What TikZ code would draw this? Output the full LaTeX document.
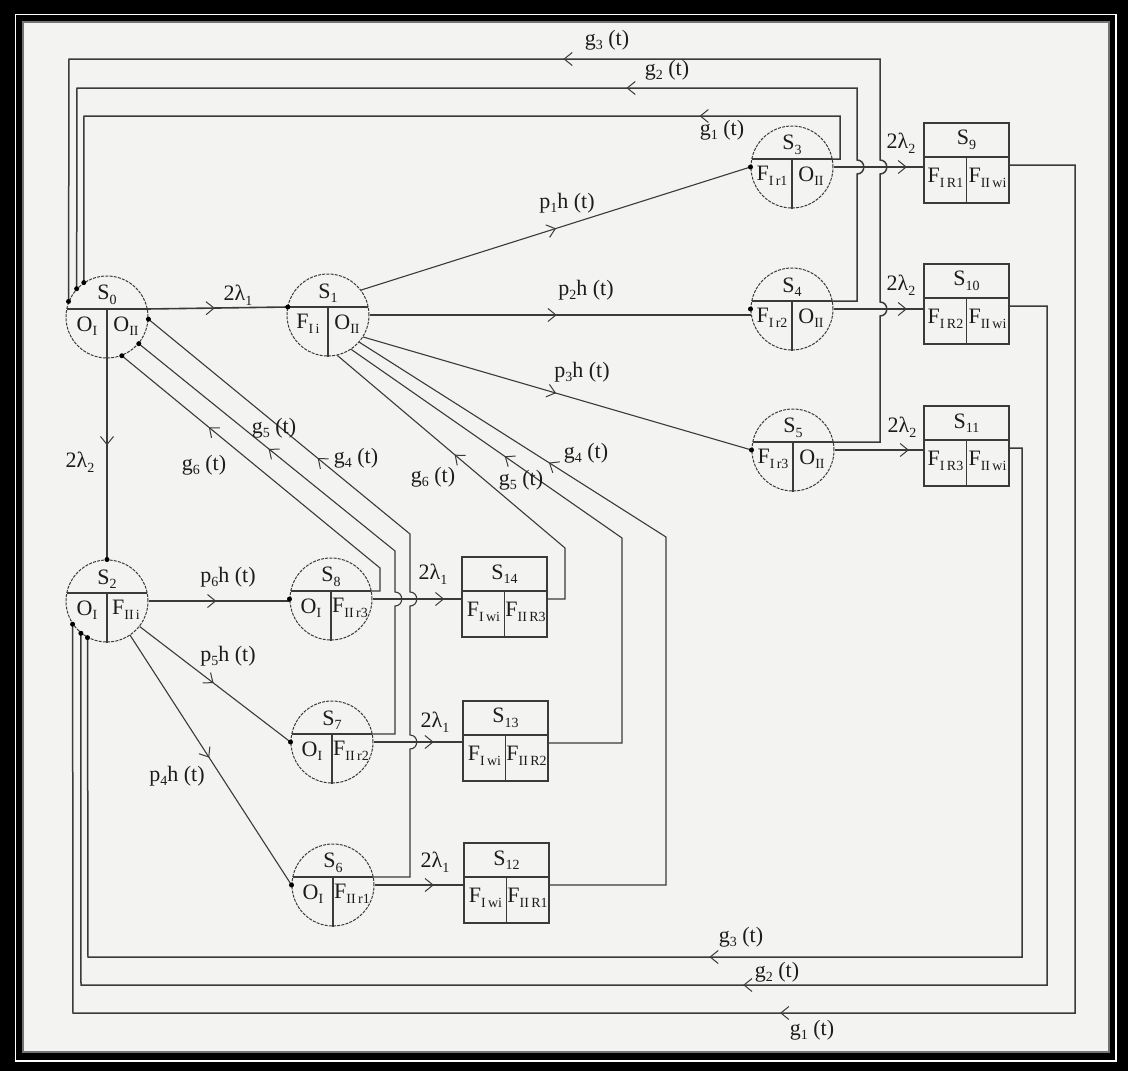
\documentclass[tikz,border=0pt]{standalone}
\usepackage{fontspec}
\setmainfont{Liberation Serif}
\usetikzlibrary{arrows.meta,calc}
\definecolor{bgc}{RGB}{243,243,241}
\definecolor{lc}{RGB}{58,58,58}
\definecolor{tc}{RGB}{28,28,28}
\newcommand\sbs[1]{\raisebox{-0.45ex}{\fontsize{14}{14}\selectfont #1}}
\newcommand\ahd{\tikz[baseline=-0.5ex]\draw[lc,line width=1pt,-{Straight Barb[length=8pt,width=13pt]}] (0,0) -- (1pt,0);}
\tikzset{
 cst/.style={circle, draw=lc, line width=1pt, dash pattern=on 3pt off 1.2pt, minimum size=82pt, inner sep=0pt},
 bst/.style={rectangle, draw=lc, line width=1.6pt, minimum width=85pt, minimum height=80pt, inner sep=0pt},
 dvl/.style={draw=lc, line width=1.4pt},
 bdv/.style={draw=lc, line width=1.5pt},
 lbl/.style={inner sep=0pt, text=tc, font=\fontsize{22}{22}\selectfont},
 fl/.style={draw=lc, line width=1.6pt},
 dl/.style={draw=lc, line width=1.1pt},
 rl/.style={draw=lc, line width=1.5pt},
 am/.style={sloped, allow upside down, pos=#1, inner sep=0pt},
 dotc/.style={circle, fill=black, inner sep=0pt, minimum size=5pt},
}
\newcommand\mkcirc[6]{%
 \node[cst] (#1) at (#2,#3) {};
 \coordinate (#1dl) at ($(#1)+(-40.2,-8)$);
 \coordinate (#1d) at ($(#1)+(40.2,-8)$);
 \coordinate (#1m) at ($(#1)+(0,-8)$);
 \draw[dvl] (#1dl) -- (#1d);
 \draw[dvl] (#1m) -- (#1.south);
 \node[lbl] (#1t) at ($(#1)+(0,-22)$) {#4};
 \node[lbl] (#1a) at ($(#1)+(-20,9)$) {#5};
 \node[lbl] (#1b) at ($(#1)+(19,9)$) {#6};
}
\newcommand\mkbox[6]{%
 \node[bst] (#1) at (#2,#3) {};
 \coordinate (#1ml) at ($(#1)+(-42.5,-6)$);
 \coordinate (#1mr) at ($(#1)+(42.5,-6)$);
 \coordinate (#1mm) at ($(#1)+(0,-6)$);
 \draw[bdv] (#1ml) -- (#1mr);
 \draw[bdv] (#1mm) -- (#1.south);
 \node[lbl] (#1t) at ($(#1)+(0,-23)$) {#4};
 \node[lbl] (#1a) at ($(#1)+(-21,15)$) {#5};
 \node[lbl] (#1b) at ($(#1)+(21,15)$) {#6};
 \coordinate (#1o) at ($(#1.east)+(0,2)$);
}
\begin{document}
\begin{tikzpicture}[x=1pt,y=-1pt]
\useasboundingbox (0,0) rectangle (1128,1071);
% frame
\fill[black] (0,0) rectangle (1128,1071);
\draw[white,line width=1.6pt] (15.5,14.5) rectangle (1116,1061);
\fill[bgc] (22,21) rectangle (1110,1053);
\draw[black!55,line width=2.5pt] (23,22) rectangle (1109,1052);

% circle states
\mkcirc{S0}{107}{317}{S\sbs{0}}{O\sbs{I}}{O\sbs{II}}
\mkcirc{S1}{328}{315}{S\sbs{1}}{F\sbs{I\,i}}{O\sbs{II}}
\mkcirc{S2}{107}{601}{S\sbs{2}}{O\sbs{I}}{F\sbs{II\,i}}
\mkcirc{S3}{792}{167}{S\sbs{3}}{F\sbs{I\,r1}}{O\sbs{II}}
\mkcirc{S4}{792}{309}{S\sbs{4}}{F\sbs{I\,r2}}{O\sbs{II}}
\mkcirc{S5}{793}{450}{S\sbs{5}}{F\sbs{I\,r3}}{O\sbs{II}}
\mkcirc{S8}{331}{599}{S\sbs{8}}{O\sbs{I}}{F\sbs{II\,r3}}
\mkcirc{S7}{332}{742}{S\sbs{7}}{O\sbs{I}}{F\sbs{II\,r2}}
\mkcirc{S6}{333}{885}{S\sbs{6}}{O\sbs{I}}{F\sbs{II\,r1}}
% box states
\mkbox{S9}{966.5}{163}{S\sbs{9}}{F\sbs{I\,R1}}{F\sbs{II\,wi}}
\mkbox{S10}{966.5}{304}{S\sbs{10}}{F\sbs{I\,R2}}{F\sbs{II\,wi}}
\mkbox{S11}{966.5}{446}{S\sbs{11}}{F\sbs{I\,R3}}{F\sbs{II\,wi}}
\mkbox{S14}{504.5}{597}{S\sbs{14}}{F\sbs{I\,wi}}{F\sbs{II\,R3}}
\mkbox{S13}{505.5}{741}{S\sbs{13}}{F\sbs{I\,wi}}{F\sbs{II\,R2}}
\mkbox{S12}{506.5}{883}{S\sbs{12}}{F\sbs{I\,wi}}{F\sbs{II\,R1}}

% forward transitions
\draw[fl] (S0d) -- node[am=0.45]{\ahd} (S1dl);
\draw[dl] (S0.south) -- node[am=0.41]{\ahd} (S2.north);
\draw[dl] (S1.37) -- node[am=0.49]{\ahd} (S3.west);
\draw[fl] (S1.east) -- node[am=0.48]{\ahd} (S1.east -| S4.west);
\draw[dl] (S1.-32) -- node[am=0.486]{\ahd} (S5.west);
\draw[fl] (S3.east) -- node[am=0.77]{\ahd} (S3.east -| S9.west);
\draw[fl] (S4.east) -- node[am=0.77]{\ahd} (S4.east -| S10.west);
\draw[fl] (S5.east) -- node[am=0.79]{\ahd} (S5.east -| S11.west);
\draw[fl] (S2.east) -- node[am=0.45]{\ahd} (S2.east -| S8.west);
\draw[dl] (S2.-38) -- node[am=0.467]{\ahd} (S7.west);
\draw[dl] (S2.-56) -- node[am=0.475]{\ahd} (S6.west);
\draw[fl] (S8.east) -- node[am=0.76]{\ahd} (S8.east -| S14.west);
\draw[fl] (S7.east) -- node[am=0.63]{\ahd} (S7.east -| S13.west);
\draw[fl] (S6.east) -- node[am=0.62]{\ahd} (S6.east -| S12.west);

% returns to S0 (top)
\draw[rl] (S3d) -- (840,159) -- (840,116) -- node[am=0.18]{\ahd} (84,116) -- (S0.124);
\draw[rl] (S4d) -- (857,301) -- (857,174) .. controls (866,174) and (866,160) .. (857,160) -- (857,88) -- node[am=0.29]{\ahd} (77,88) -- (S0.137);
\draw[rl] (S5d) -- (880,442) -- (880,316) .. controls (889,316) and (889,302) .. (880,302) -- (880,174) .. controls (889,174) and (889,160) .. (880,160) -- (880,59) -- node[am=0.385]{\ahd} (69,59) -- (S0.158);
% returns to S0 (diagonal)
\draw[dl] (S8d) -- (380,591) -- (380,568) -- node[am=0.65]{\ahd} (S0.-69);
\draw[dl] (S7d) -- (395,734) -- (395,606) .. controls (404,606) and (404,592) .. (395,592) -- (395,551) -- node[am=0.48]{\ahd} (S0.-40);
\draw[dl] (S6d) -- (410,877) -- (410,749) .. controls (419,749) and (419,735) .. (410,735) -- (410,606) .. controls (419,606) and (419,592) .. (410,592) -- (410,534) -- node[am=0.34]{\ahd} (S0.-3);
% returns to S1
\draw[dl] (S14o) -- (565,599) -- (565,548) -- node[am=0.47]{\ahd} (S1.-77);
\draw[dl] (S13o) -- (622,743) -- (622,538) -- node[am=0.42]{\ahd} (S1.-56);
\draw[dl] (S12o) -- (666,885) -- (666,537) -- node[am=0.37]{\ahd} (S1.-41);
% returns to S2 (bottom)
\draw[rl] (S9o) -- (1075,165) -- (1075,1013) -- node[am=0.29]{\ahd} (73,1013) -- (S2.214);
\draw[rl] (S10o) -- (1047,306) -- (1047,985) -- node[am=0.31]{\ahd} (81,985) -- (S2.231);
\draw[rl] (S11o) -- (1022,448) -- (1022,957) -- node[am=0.33]{\ahd} (88,957) -- (S2.242);

% dots
\foreach \p/\n in {S0.158/a1,S0.137/a2,S0.124/a3,S0.-3/a4,S0.-40/a5,S0.-69/a6,S1dl/a7,S2.north/a8,S2.214/a9,S2.231/a10,S2.242/a11,S3.west/a12,S4.west/a13,S5.west/a14,S6.west/a15,S7.west/a16,S8.west/a17}
  \node[dotc] (dot\n) at (\p) {};

% labels
\node[lbl] (l01) at (238,295) {2λ\sbs{1}};
\node[lbl] (l02) at (80,462) {2λ\sbs{2}};
\node[lbl] (lp1) at (567,203) {p\sbs{1}h (t)};
\node[lbl] (lp2) at (586,290) {p\sbs{2}h (t)};
\node[lbl] (lp3) at (582,372) {p\sbs{3}h (t)};
\node[lbl] (l39) at (901,143) {2λ\sbs{2}};
\node[lbl] (l410) at (901,285) {2λ\sbs{2}};
\node[lbl] (l511) at (902,427) {2λ\sbs{2}};
\node[lbl] (lp6) at (228,577) {p\sbs{6}h (t)};
\node[lbl] (lp5) at (228,656) {p\sbs{5}h (t)};
\node[lbl] (lp4) at (177,776) {p\sbs{4}h (t)};
\node[lbl] (l814) at (433,574) {2λ\sbs{1}};
\node[lbl] (l713) at (435,722) {2λ\sbs{1}};
\node[lbl] (l612) at (435,862) {2λ\sbs{1}};
\node[lbl] (gt3) at (607,40) {g\sbs{3} (t)};
\node[lbl] (gt2) at (667,70) {g\sbs{2} (t)};
\node[lbl] (gt1) at (722,130) {g\sbs{1} (t)};
\node[lbl] (gb3) at (741,937) {g\sbs{3} (t)};
\node[lbl] (gb2) at (777,972) {g\sbs{2} (t)};
\node[lbl] (gb1) at (812,1030) {g\sbs{1} (t)};
\node[lbl] (gl6) at (204,465) {g\sbs{6} (t)};
\node[lbl] (gl5) at (274,428) {g\sbs{5} (t)};
\node[lbl] (gl4) at (356,458) {g\sbs{4} (t)};
\node[lbl] (gr6) at (433,477) {g\sbs{6} (t)};
\node[lbl] (gr5) at (521,480) {g\sbs{5} (t)};
\node[lbl] (gr4) at (586,453) {g\sbs{4} (t)};
\end{tikzpicture}
\end{document}
